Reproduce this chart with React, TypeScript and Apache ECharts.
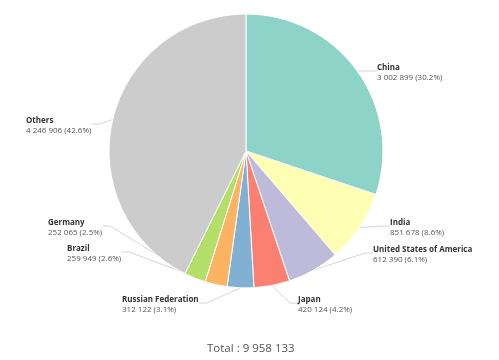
import React, { useEffect, useRef } from "react";
import * as echarts from "echarts";

const countries = ["China", "India", "United States of America", "Japan", "Russian Federation", "Brazil", "Germany", "Others"];
const values = [3002899, 851678, 612390, 420124, 312122, 259949, 252065, 4246906];
const colors = ["#8dd3c7", "#ffffb3", "#bebada", "#fb8072", "#80b1d3", "#fdb462", "#b3de69", "#cccccc"];
// label anchor (text left, text top) positions
const labelPos: [number, number][] = [
  [377, 61], [390, 216], [373, 243], [298, 293], [122, 293], [67, 242], [48, 216], [26, 114],
];

const fmt = (n: number) => String(n).replace(/\B(?=(\d{3})+(?!\d))/g, " ");

export default function App() {
  const ref = useRef<HTMLDivElement>(null);
  useEffect(() => {
    const chart = echarts.init(ref.current!, null, { renderer: "svg" });
    const total = values.reduce((a, b) => a + b, 0);
    chart.setOption({
      animation: false,
      title: {
        text: "Total : " + fmt(total),
        left: 202,
        top: 336,
        textStyle: { fontFamily: "Open Sans", fontSize: 11.5, fontWeight: "normal", color: "#555" },
      },
      series: [
        {
          type: "pie",
          center: [246, 151],
          radius: 137,
          startAngle: 90,
          clockwise: true,
          data: countries.map((c, i) => ({ name: c, value: values[i], itemStyle: { color: colors[i] } })),
          itemStyle: { borderColor: "#fff", borderWidth: 1 },
          label: {
            show: true,
            position: "outside",
            fontFamily: "Open Sans",
            formatter: (p: any) =>
              `{n|${p.name}}\n{v|${fmt(p.value)} (${((p.value / total) * 100).toFixed(1)}%)}`,
            rich: {
              n: { fontFamily: "Open Sans", fontSize: 8, fontWeight: "bold", color: "#333", lineHeight: 10, align: "left" },
              v: { fontFamily: "Open Sans", fontSize: 8, color: "#555", lineHeight: 10, align: "left" },
            },
          },
          labelLayout: (params: any) => {
            const p = labelPos[params.dataIndex];
            return { x: p[0], y: p[1], align: "left", verticalAlign: "top" };
          },
          labelLine: { show: true, length: 12, length2: 8, lineStyle: { color: "#d6d6d6", width: 1 } },
        },
      ],
    });
    return () => chart.dispose();
  }, []);
  return <div ref={ref} style={{ position: "fixed", left: 0, top: 0, width: 499, height: 360 }} />;
}
